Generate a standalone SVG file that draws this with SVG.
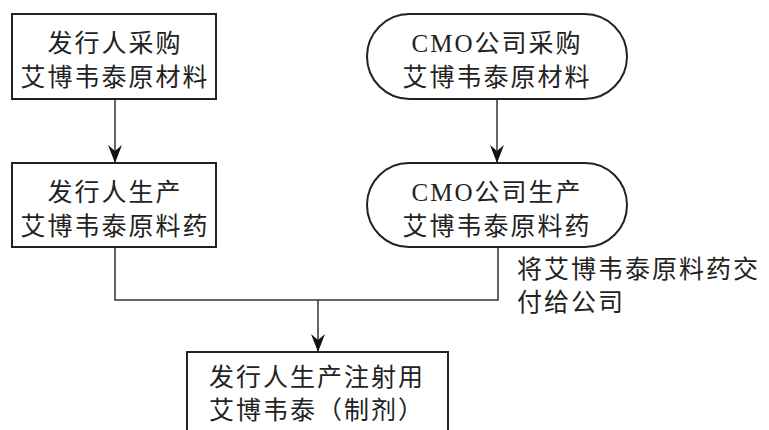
<svg xmlns="http://www.w3.org/2000/svg" width="769" height="430" viewBox="0 0 769 430">
<defs>
<style>
.box{fill:#fff;stroke:#222;stroke-width:2}
.c{fill:none;stroke:#333;stroke-width:1.5}
.t{font-family:"Liberation Serif","Noto Sans CJK SC",serif;font-size:25px;letter-spacing:2px;fill:#222;text-anchor:middle}
.l{font-family:"Liberation Serif","Noto Sans CJK SC",serif;font-size:25px;letter-spacing:2px;fill:#222}
</style>
<marker id="ah" markerUnits="userSpaceOnUse" markerWidth="20" markerHeight="16" viewBox="-19 -8 20 16" refX="0" refY="0" orient="auto">
<path d="M0,0 L-18,-7 L-12,0 L-18,7 Z" fill="#111"/>
</marker>
</defs>
<rect width="769" height="430" fill="#fff"/>
<g id="connectors">
<path class="c" d="M115,99 V163" marker-end="url(#ah)"/>
<path class="c" d="M497,99 V163" marker-end="url(#ah)"/>
<path class="c" d="M115,247 V300 H498 V247"/>
<path class="c" d="M318,300 V352" marker-end="url(#ah)"/>
</g>
<g id="n1">
<rect class="box" x="12" y="14" width="204" height="85"/>
<text class="t" x="115" y="52">发行人采购</text>
<text class="t" x="115" y="86">艾博韦泰原材料</text>
</g>
<g id="n2">
<rect class="box" x="12" y="163" width="204" height="84"/>
<text class="t" x="115" y="201">发行人生产</text>
<text class="t" x="115" y="235">艾博韦泰原料药</text>
</g>
<g id="n3">
<rect class="box" x="367" y="14" width="260" height="85" rx="42.5" ry="42.5"/>
<text class="t" x="497" y="52">CMO公司采购</text>
<text class="t" x="497" y="86">艾博韦泰原材料</text>
</g>
<g id="n4">
<rect class="box" x="367" y="163" width="260" height="84" rx="42" ry="42"/>
<text class="t" x="497" y="201">CMO公司生产</text>
<text class="t" x="497" y="235">艾博韦泰原料药</text>
</g>
<g id="n5">
<rect class="box" x="187" y="352" width="261" height="90"/>
<text class="t" x="317" y="386">发行人生产注射用</text>
<text class="t" x="317" y="419">艾博韦泰（制剂）</text>
</g>
<g id="label">
<text class="l" x="517" y="278">将艾博韦泰原料药交</text>
<text class="l" x="517" y="311">付给公司</text>
</g>
</svg>
